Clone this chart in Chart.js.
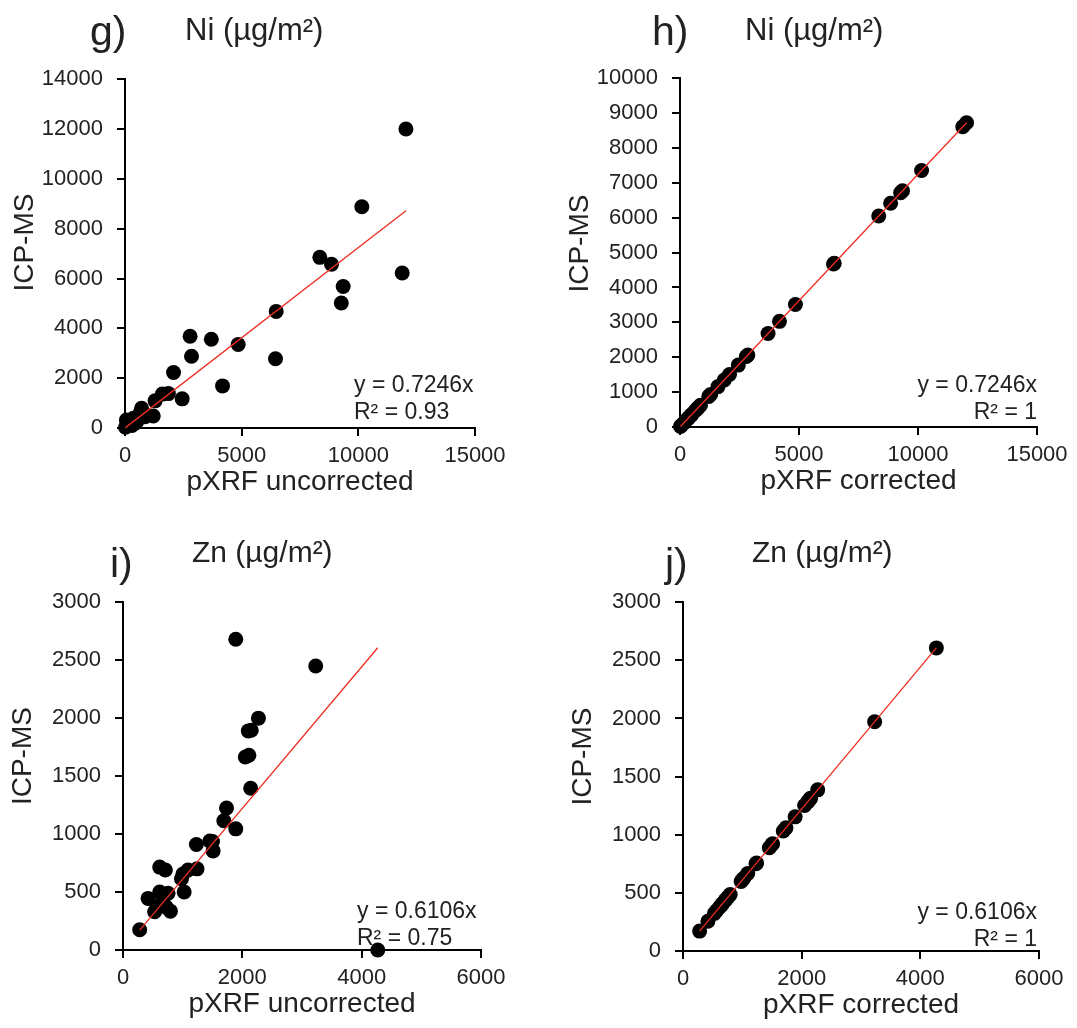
<!DOCTYPE html>
<html><head><meta charset="utf-8">
<script src="https://cdn.jsdelivr.net/npm/chart.js@4.4.1/dist/chart.umd.min.js"></script>
<style>
html,body{margin:0;padding:0;background:#fff;overflow:hidden;width:1077px;height:1028px;}
body{position:relative;font-family:"Liberation Sans",Arial,sans-serif;color:#222;}
canvas{position:absolute;}
.lbl{position:absolute;white-space:nowrap;line-height:1;z-index:2;}
.panel{font-size:41px;}
.elem{font-size:30px;}
.eq{position:absolute;font-size:23px;line-height:27px;white-space:nowrap;z-index:2;}
</style></head><body>

<div class="lbl panel" style="left:90px;top:11px">g)</div>
<div class="lbl elem" style="left:185px;top:14px;font-size:31px">Ni (µg/m²)</div>
<div class="lbl panel" style="left:652px;top:11px">h)</div>
<div class="lbl elem" style="left:745px;top:14px;font-size:31px">Ni (µg/m²)</div>
<div class="lbl panel" style="left:110px;top:543px">i)</div>
<div class="lbl elem" style="left:192px;top:537px">Zn (µg/m²)</div>
<div class="lbl panel" style="left:665px;top:543px">j)</div>
<div class="lbl elem" style="left:752px;top:537px">Zn (µg/m²)</div>

<div class="eq" style="left:354px;top:371px;text-align:left">y = 0.7246x<br>R² = 0.93</div>
<div class="eq" style="right:40px;top:371px;text-align:right">y = 0.7246x<br>R² = 1</div>
<div class="eq" style="left:357px;top:897px;text-align:left">y = 0.6106x<br>R² = 0.75</div>
<div class="eq" style="right:40px;top:898px;text-align:right">y = 0.6106x<br>R² = 1</div>

<canvas id="cg" width="515" height="449" style="left:5px;top:52px"></canvas>
<canvas id="ch" width="517" height="449" style="left:560px;top:51px"></canvas>
<canvas id="ci" width="523" height="448" style="left:3px;top:575px"></canvas>
<canvas id="cj" width="514" height="449" style="left:563px;top:575px"></canvas>

<script>
// ---- Data ----
// g) Ni, pXRF uncorrected vs ICP-MS
const niUncorrX = [20, 60, 150, 300, 360, 450, 500, 640, 710, 760, 860, 1210, 1290, 1600, 1860, 2080, 2450, 2790, 2850, 3700, 4180, 4850, 6450, 6480, 8350, 8850, 9270, 9350, 10150, 11880, 12040];
const niUncorrY = [30, 320, 150, 100, 390, 200, 250, 590, 790, 480, 450, 480, 1090, 1360, 1380, 2230, 1170, 3680, 2880, 3560, 1690, 3350, 2780, 4680, 6850, 6570, 5020, 5680, 8880, 6220, 12000];
// h) Ni, pXRF corrected vs ICP-MS
const niCorrX = [20, 60, 150, 300, 360, 450, 500, 640, 710, 760, 860, 1210, 1290, 1600, 1860, 2080, 2450, 2790, 2850, 3700, 4180, 4850, 6450, 6480, 8350, 8850, 9270, 9350, 10150, 11880, 12040];
const niCorrY = [14, 43, 109, 217, 261, 326, 362, 464, 514, 551, 623, 877, 935, 1159, 1348, 1507, 1775, 2022, 2065, 2681, 3029, 3514, 4674, 4695, 6050, 6413, 6717, 6775, 7355, 8608, 8724];
// i) Zn, pXRF uncorrected vs ICP-MS
const znUncorrX = [280, 420, 530, 570, 615, 615, 650, 670, 710, 725, 755, 795, 980, 1005, 1025, 1090, 1230, 1240, 1455, 1500, 1510, 1690, 1735, 1890, 1890, 2050, 2110, 2100, 2150, 2140, 2270, 3230, 4270];
const znUncorrY = [175, 445, 330, 370, 715, 500, 400, 445, 690, 370, 490, 335, 615, 655, 500, 690, 910, 700, 940, 935, 855, 1115, 1225, 1045, 2680, 1665, 1680, 1890, 1895, 1395, 2000, 2450, 0];
// j) Zn, pXRF corrected vs ICP-MS
const znCorrX = [280, 420, 530, 570, 615, 650, 670, 710, 725, 755, 795, 980, 1005, 1025, 1090, 1230, 1240, 1455, 1500, 1510, 1690, 1735, 1890, 2050, 2100, 2110, 2140, 2150, 2270, 3230, 4270];
const znCorrY = [171, 256, 324, 348, 376, 397, 409, 434, 443, 461, 485, 598, 614, 626, 666, 751, 757, 888, 916, 922, 1032, 1059, 1154, 1252, 1282, 1288, 1307, 1313, 1386, 1972, 2607];
// Trendline slopes (y = a·x)
const slopes = [0.7246, 0.7246, 0.6106, 0.6106];
// Axis ranges / tick steps
const yMax = [14000, 10000, 3000, 3000];
const yStep = [2000, 1000, 500, 500];
const xMax = [15000, 15000, 6000, 6000];
const xStep = [5000, 5000, 2000, 2000];
const xTitles = ['pXRF uncorrected', 'pXRF corrected', 'pXRF uncorrected', 'pXRF corrected'];
const yTitle = 'ICP-MS';

const TXT = '#222';
const Yw = 120, Xh = 73;
const pads = [{top:25,right:45},{top:25,right:40},{top:25,right:45},{top:25,right:38}];
const yTitleShift = [-11, -9, -20, -20];
const FAM = '"Liberation Sans", Arial, sans-serif';

const yTitlePlugin = {
  id: 'yTitlePlugin',
  afterDraw(chart, args, opts) {
    const ca = chart.chartArea, ctx = chart.ctx;
    ctx.save();
    ctx.translate(opts.x, (ca.top + ca.bottom) / 2 + opts.shift);
    ctx.rotate(-Math.PI / 2);
    ctx.font = '28px ' + FAM;
    ctx.fillStyle = TXT;
    ctx.textAlign = 'center';
    ctx.textBaseline = 'middle';
    ctx.fillText(opts.text, 0, 0);
    ctx.restore();
  }
};

function makeChart(id, idx, xs, ys) {
  const pts = xs.map((x, i) => ({x: x, y: ys[i]}));
  const xmin = Math.min(...xs), xmax = Math.max(...xs);
  const a = slopes[idx];
  const trend = [{x: xmin, y: a * xmin}, {x: xmax, y: a * xmax}];
  const tickFont = {family: FAM, size: 22};
  const titleFont = {family: FAM, size: 28};
  new Chart(document.getElementById(id), {
    type: 'scatter',
    data: {datasets: [
      {type: 'line', data: trend, borderColor: 'rgb(238,45,35)', borderWidth: 1.3, pointRadius: 0, fill: false, order: 0, clip: false},
      {data: pts, backgroundColor: '#000', borderColor: '#000', pointRadius: 7.5, pointBorderWidth: 0, order: 1, clip: false}
    ]},
    plugins: [yTitlePlugin],
    options: {
      responsive: false, animation: false, devicePixelRatio: 1,
      layout: {padding: {top: pads[idx].top, right: pads[idx].right, left: 0, bottom: 0}},
      plugins: {legend: {display: false}, tooltip: {enabled: false},
        yTitlePlugin: {text: yTitle, x: 20, shift: yTitleShift[idx]}},
      scales: {
        x: {
          type: 'linear', min: 0, max: xMax[idx],
          ticks: {stepSize: xStep[idx], color: TXT, font: tickFont, padding: 7, maxRotation: 0, callback: v => String(v)},
          grid: {display: true, drawOnChartArea: false, drawTicks: true, tickLength: 8, color: '#000', lineWidth: 2},
          border: {display: true, color: '#000', width: 2},
          title: {display: true, text: xTitles[idx], color: TXT, font: titleFont, padding: 2},
          afterFit: s => { s.height = Xh; }
        },
        y: {
          type: 'linear', min: 0, max: yMax[idx],
          ticks: {stepSize: yStep[idx], color: TXT, font: tickFont, padding: 14, callback: v => String(v)},
          grid: {display: true, drawOnChartArea: false, drawTicks: true, tickLength: 8, color: '#000', lineWidth: 2},
          border: {display: true, color: '#000', width: 2},
          title: {display: false},
          afterFit: s => { s.width = Yw; }
        }
      }
    }
  });
}

makeChart('cg', 0, niUncorrX, niUncorrY);
makeChart('ch', 1, niCorrX, niCorrY);
makeChart('ci', 2, znUncorrX, znUncorrY);
makeChart('cj', 3, znCorrX, znCorrY);
</script>
</body></html>
